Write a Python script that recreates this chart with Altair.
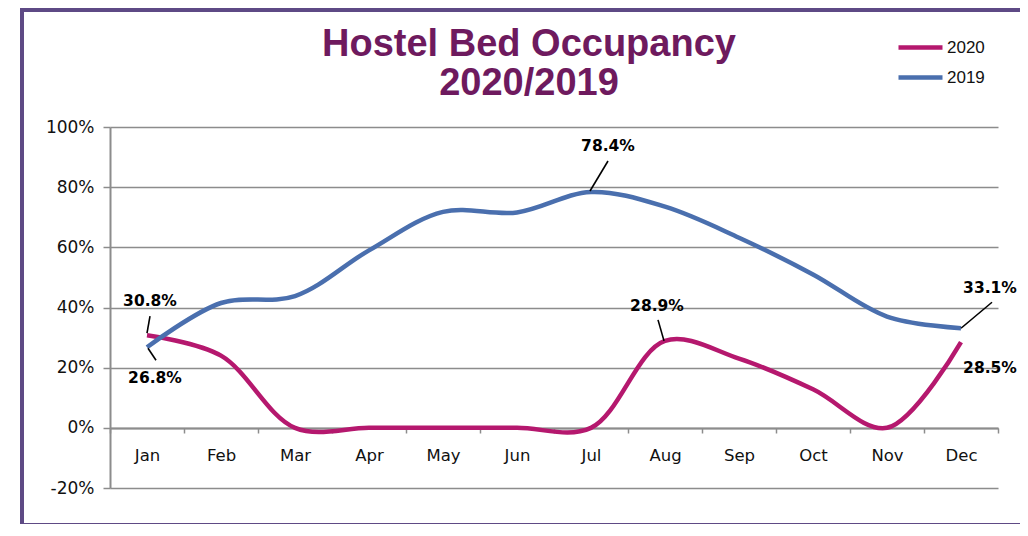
import altair as alt
import pandas as pd

months = ["Jan", "Feb", "Mar", "Apr", "May", "Jun", "Jul", "Aug", "Sep", "Oct", "Nov", "Dec"]
occ_2020 = [30.8, 24.0, 0.0, 0.0, 0.0, 0.0, 0.0, 28.9, 23.0, 12.8, 0.0, 28.5]
occ_2019 = [26.8, 41.5, 43.8, 59.0, 71.8, 71.6, 78.4, 73.5, 63.2, 51.0, 37.0, 33.1]
series_names = ["2020", "2019"]
y_ticks = [-20, 0, 20, 40, 60, 80, 100]

rows = []
for i, m in enumerate(months):
    rows.append({"m": i, "month": m, "series": "2020", "v": occ_2020[i]})
    rows.append({"m": i, "month": m, "series": "2019", "v": occ_2019[i]})
df = pd.DataFrame(rows)

MAG = "#B5186E"
BLUE = "#4A6FAE"
GRID = "#8C8C8C"
W, H = 888, 361
PX_M = W / 12.0      # pixels per month
PX_V = H / 120.0     # pixels per percent point

month_arr = "[" + ",".join("'" + m + "'" for m in months) + "]"
x_vals = [i * 0.5 - 0.5 for i in range(25)]

xscale = alt.Scale(domain=[-0.5, 11.5], nice=False, zero=False)
yscale = alt.Scale(domain=[-20, 100], nice=False, zero=False)
xaxis = alt.Axis(
    values=x_vals,
    labelExpr="datum.value % 1 === 0 ? " + month_arr + "[datum.value] : ''",
    tickOpacity={"condition": {"test": "datum.value % 1 === 0", "value": 0}, "value": 1},
    grid=False, offset=-60, title=None, domainColor=GRID, domainWidth=2,
    tickColor=GRID, tickWidth=1.5, tickSize=5, labelPadding=14,
    labelFont="DejaVu Sans", labelFontSize=16.5, labelColor="#111111",
    labelOverlap=False, labelFlush=False,
)
yaxis = alt.Axis(
    values=y_ticks, labelExpr="datum.value + '%'", title=None,
    grid=True, gridColor=GRID, gridWidth=1.5, domainColor=GRID, domainWidth=2,
    tickColor=GRID, tickWidth=1.5, tickSize=7, labelPadding=9,
    labelFont="DejaVu Sans", labelFontSize=17, labelColor="#111111",
)


def X(f):
    return alt.X(f, type="quantitative", scale=xscale, axis=xaxis)


def Y(f):
    return alt.Y(f, type="quantitative", scale=yscale, axis=yaxis)


color = alt.Color(
    "series:N",
    scale=alt.Scale(domain=series_names, range=[MAG, BLUE]),
    legend=alt.Legend(
        orient="none", legendX=793, legendY=-97, title=None,
        symbolType="M-1.467,0L1.467,0", symbolSize=900, symbolStrokeWidth=4.5,
        labelFont="Liberation Sans", labelFontSize=17, labelColor="#111111",
        labelOffset=9, rowPadding=3,
    ),
)

base = alt.Chart(df)
line20 = base.transform_filter("datum.series == '2020'").mark_line(
    interpolate="catmull-rom", strokeWidth=4.5).encode(x=X("m"), y=Y("v"), color=color)
line19 = base.transform_filter("datum.series == '2019'").mark_line(
    interpolate="catmull-rom", strokeWidth=4.5).encode(x=X("m"), y=Y("v"), color=color)

# annotations: (series, month index, label dx, label dy, leader start px, leader end px)
annots = [
    ("2020", 0, 3, -34, (0, -2), (3, -19)),
    ("2019", 0, 8, 31, (1, 1), (9, 13)),
    ("2019", 6, 17, -46, (-1, -1), (17, -31)),
    ("2020", 7, -8, -35, (-1, 0), (-7, -21)),
    ("2019", 11, 29, -40, (0, 0), (31, -26)),
    ("2020", 11, 29, 26, None, None),
]

layers = []
for s, mi, dx, dy, l0, l1 in annots:
    src = base.transform_filter("datum.series == '" + s + "' && datum.m == " + str(mi))
    if l0 is not None:
        rule = src.transform_calculate(
            x1="datum.m + (" + str(l0[0] / PX_M) + ")",
            y1="datum.v - (" + str(l0[1] / PX_V) + ")",
            xe="datum.m + (" + str(l1[0] / PX_M) + ")",
            ye="datum.v - (" + str(l1[1] / PX_V) + ")",
        ).mark_rule(color="#000000", strokeWidth=1.6).encode(
            x=X("x1"), y=Y("y1"), x2="xe:Q", y2="ye:Q")
        layers.append(rule)
    txt = src.transform_calculate(lab="format(datum.v, '.1f') + '%'").mark_text(
        dx=dx, dy=dy, font="DejaVu Sans", fontSize=15.5, fontWeight="bold",
        color="#000000", align="center", baseline="middle",
    ).encode(x=X("m"), y=Y("v"), text="lab:N")
    layers.append(txt)

border = alt.Chart(df).mark_rect(
    fill=None, stroke="#5E4A85", strokeWidth=4, clip=False
).encode(x=alt.value(-88), x2=alt.value(940), y=alt.value(-117), y2=alt.value(398))

chart = alt.layer(line20, line19, *layers, border).properties(
    width=W, height=H,
    title=alt.TitleParams(
        ["Hostel Bed Occupancy", "2020/2019"], fontSize=38, font="Liberation Sans",
        fontWeight="bold", color="#6E1A5E", anchor="middle", dx=-25, offset=26,
        dy=121, lineHeight=39,
    ),
    padding={"left": 102, "top": 119, "right": 22, "bottom": 36},
    autosize=alt.AutoSizeParams(type="none"),
    background="white",
).configure_view(stroke=None)

chart.save("out.html", embed_options={"renderer": "svg", "actions": False})
